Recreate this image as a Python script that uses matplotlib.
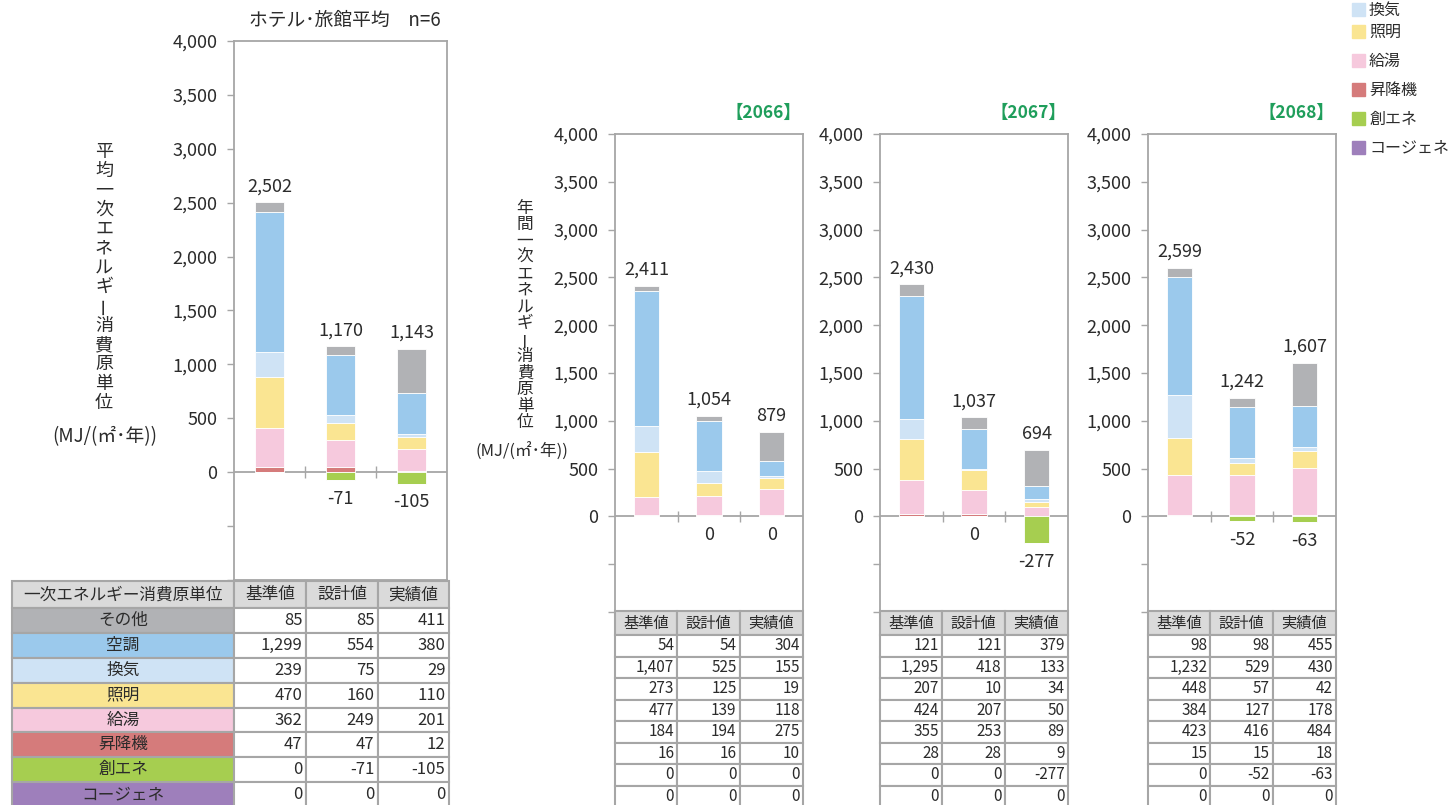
import matplotlib
matplotlib.use("Agg")
import matplotlib.pyplot as plt
from matplotlib.patches import Rectangle
from matplotlib.table import Table
from matplotlib.ticker import FuncFormatter, MultipleLocator
import numpy as np

plt.rcParams['font.family'] = ['Noto Sans CJK JP', 'DejaVu Sans']

W, H = 1449, 805
TXT = '#2b2b2b'
GRID = '#a6a6a6'

# data
categories = ["その他", "空調", "換気", "照明", "給湯", "昇降機", "創エネ", "コージェネ"]
colors = ["#b1b2b5", "#9bc9ec", "#cfe3f5", "#fae592", "#f6c9dd", "#d57b7b", "#a6ce50", "#9e7fbb"]
columns = ["基準値", "設計値", "実績値"]

# one row per category, columns = 基準値, 設計値, 実績値
avg_values = [[85, 85, 411], [1299, 554, 380], [239, 75, 29], [470, 160, 110],
              [362, 249, 201], [47, 47, 12], [0, -71, -105], [0, 0, 0]]
avg_totals = [2502, 1170, 1143]

y2066 = [[54, 54, 304], [1407, 525, 155], [273, 125, 19], [477, 139, 118],
         [184, 194, 275], [16, 16, 10], [0, 0, 0], [0, 0, 0]]
t2066 = [2411, 1054, 879]

y2067 = [[121, 121, 379], [1295, 418, 133], [207, 10, 34], [424, 207, 50],
         [355, 253, 89], [28, 28, 9], [0, 0, -277], [0, 0, 0]]
t2067 = [2430, 1037, 694]

y2068 = [[98, 98, 455], [1232, 529, 430], [448, 57, 42], [384, 127, 178],
         [423, 416, 484], [15, 15, 18], [0, -52, -63], [0, 0, 0]]
t2068 = [2599, 1242, 1607]

years = ["2066", "2067", "2068"]

fig = plt.figure(figsize=(W / 100, H / 100), dpi=100)


def px_box(l, t, r, b):
    return [l / W, 1 - b / H, (r - l) / W, (b - t) / H]


def draw_panel(ax, values, totals):
    x = np.arange(3)
    pos = np.zeros(3)
    for i in [5, 4, 3, 2, 1, 0]:
        v = np.array(values[i], dtype=float)
        ax.bar(x, v, 0.4, bottom=pos, color=colors[i], edgecolor='white', linewidth=0.6, zorder=3)
        pos += v
    neg = np.zeros(3)
    for i in [6, 7]:
        v = np.array(values[i], dtype=float)
        ax.bar(x, v, 0.4, bottom=neg, color=colors[i], edgecolor='white', linewidth=0.6, zorder=3)
        neg += v
    for j in range(3):
        ax.annotate(f"{totals[j]:,}", (x[j], pos[j]), xytext=(0, 5), textcoords='offset points',
                    ha='center', va='bottom', fontsize=13, color=TXT)
        if j > 0:
            ax.annotate(f"{int(neg[j]):,}", (x[j], neg[j]), xytext=(0, -7), textcoords='offset points',
                        ha='center', va='top', fontsize=13, color=TXT)

    ax.set_xlim(-0.5, 2.5)
    ax.set_ylim(-1000, 4000)
    ax.yaxis.set_major_locator(MultipleLocator(500))
    ax.yaxis.set_major_formatter(FuncFormatter(lambda v, p: f"{v:,.0f}" if v >= 0 else ""))
    ax.tick_params(axis='y', direction='out', length=5, width=1, color=GRID,
                   labelsize=13, pad=7, labelcolor=TXT)
    ax.set_xticks([])
    for s in ax.spines.values():
        s.set_color(GRID)
        s.set_linewidth(1.3)
    ax.axhline(0, color=GRID, lw=1.3, zorder=2)
    ax.vlines([0.5, 1.5], -55, 55, color=GRID, lw=1.0, zorder=2)


def draw_table(ax, values, fontsize, label_col):
    ax.axis('off')
    tbl = Table(ax, bbox=[0, 0, 1, 1])
    if label_col:
        widths = [222, 72, 72, 71]
        head_h, row_h = 27, 24.6
        header = ["一次エネルギー消費原単位"] + columns
    else:
        widths = [62, 62, 63]
        head_h, row_h = 24, 21.5
        header = columns
    for c, name in enumerate(header):
        cell = tbl.add_cell(0, c, widths[c], head_h, text=name, loc='center',
                            facecolor='#dadada', edgecolor=GRID)
        cell.get_text().set_fontsize(fontsize)
        cell.get_text().set_color(TXT)
        cell.set_linewidth(1.5)
    for r, row in enumerate(values):
        c0 = 0
        if label_col:
            cell = tbl.add_cell(r + 1, 0, widths[0], row_h, text=categories[r], loc='center',
                                facecolor=colors[r], edgecolor=GRID)
            cell.get_text().set_fontsize(fontsize)
            cell.get_text().set_color(TXT)
            cell.set_linewidth(1.5)
            c0 = 1
        for k, v in enumerate(row):
            cell = tbl.add_cell(r + 1, c0 + k, widths[c0 + k], row_h, text=f"{v:,}", loc='right',
                                facecolor='white', edgecolor=GRID)
            cell.PAD = 0.05
            cell.get_text().set_fontsize(fontsize)
            cell.get_text().set_color(TXT)
            cell.set_linewidth(1.5)
    tbl.auto_set_font_size(False)
    ax.add_table(tbl)


def vertical_label(text, x, y_top, step, size):
    for k, ch in enumerate(text):
        rot = 90 if ch == 'ー' else 0
        fig.text(x / W, 1 - (y_top + k * step) / H, ch, ha='center', va='center',
                 fontsize=size, rotation=rot, color=TXT)


# left: average of all hotels
ax0 = fig.add_axes(px_box(234, 41, 447, 580))
draw_panel(ax0, avg_values, avg_totals)
fig.text(345 / W, 1 - 20 / H, "ホテル･旅館平均　n=6", ha='center', va='center', fontsize=13.5, color=TXT)
vertical_label("平均一次エネルギー消費原単位", 104, 152, 19.3, 13)
fig.text(105 / W, 1 - 437 / H, "(MJ/(㎡･年))", ha='center', va='center', fontsize=13.5, color=TXT)
tax0 = fig.add_axes(px_box(12, 581, 449, 807))
draw_table(tax0, avg_values, 12, True)

# right: one panel per year
lefts = [615, 880, 1148]
for left, yr, vals, tots in zip(lefts, years, [y2066, y2067, y2068], [t2066, t2067, t2068]):
    ax = fig.add_axes(px_box(left, 134, left + 188, 612))
    draw_panel(ax, vals, tots)
    fig.text((left + 186) / W, 1 - 113 / H, f"【{yr}】", ha='right', va='center',
             fontsize=12.5, fontweight='bold', color='#1f9e5b')
    tax = fig.add_axes(px_box(left, 611, left + 188, 807))
    draw_table(tax, vals, 11, False)

vertical_label("年間一次エネルギー消費原単位", 525, 208, 16.5, 12)
fig.text(522 / W, 1 - 452 / H, "(MJ/(㎡･年))", ha='center', va='center', fontsize=12, color=TXT)

# legend (top entries run off the top of the picture)
for i, name in enumerate(categories):
    yc = 148 - (7 - i) * 29
    if yc < 0:
        continue
    yc = max(yc, 10)
    fig.add_artist(Rectangle(((1352) / W, 1 - (yc + 6.5) / H), 13 / W, 13 / H,
                             transform=fig.transFigure, color=colors[i]))
    fig.text(1369 / W, 1 - yc / H, name, ha='left', va='center', fontsize=11.5, color=TXT)

fig.savefig("out.png", dpi=100)
